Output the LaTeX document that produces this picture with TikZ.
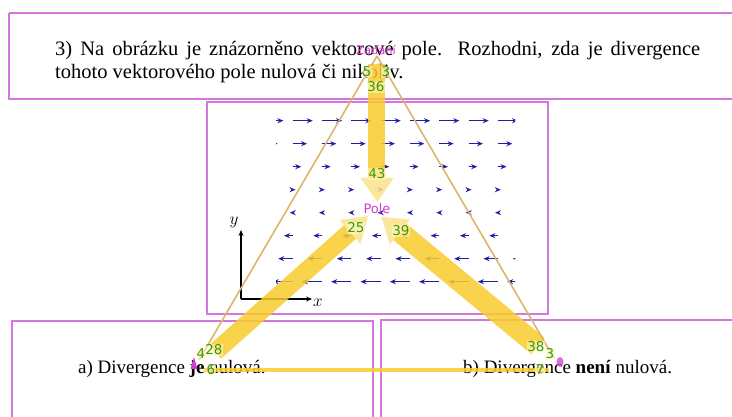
\documentclass[tikz,border=0pt]{standalone}
\usepackage{fontspec}
\setmainfont{Liberation Serif}
\newfontfamily\lab{DejaVu Sans}
\usetikzlibrary{arrows.meta,calc}
\definecolor{boxc}{RGB}{210,120,220}
\definecolor{vecc}{RGB}{30,30,160}
\definecolor{bandc}{RGB}{248,204,45}
\definecolor{headc}{RGB}{250,226,140}
\definecolor{thinc}{RGB}{222,182,105}
\definecolor{numc}{RGB}{60,150,20}
\definecolor{magc}{RGB}{210,60,210}
\tikzset{
  panel/.style={draw=boxc, line width=1.1pt},
  vec/.style={draw=vecc, line width=1.5pt, -{Stealth[length=6pt,width=5pt]}},
  band/.style={draw=bandc, draw opacity=0.85, line cap=butt},
  head/.style={fill=headc, fill opacity=0.85, draw=none},
  thin/.style={draw=thinc, line width=1.6pt},
  num/.style={font=\lab\fontsize{13.5}{14}\selectfont, text=numc, fill=yellow!25!white, fill opacity=0.55, text opacity=1, inner sep=0.8pt},
  mag/.style={text=magc, inner sep=0.5pt},
  axis/.style={draw=black, line width=1.2pt, -{Stealth[length=6pt,width=5pt]}}
}
\begin{document}
\begin{tikzpicture}[x=1pt,y=-1pt]
\useasboundingbox[fill=white] (0,0) rectangle (732,417);
% panels
\draw[panel] (9,13) -- (733,13) (9,13) -- (9,99) -- (733,99);
\draw[panel] (207,102) rectangle (548,314);
\draw[panel] (12,420) -- (12,321) -- (373,321) -- (373,420);
\draw[panel] (381,420) -- (381,320) -- (733,320);
% question text
\node[anchor=base west, inner sep=0, font=\fontsize{20.5}{23}\selectfont] (q1) at (55,56) {\makebox[645pt][s]{3) Na obrázku je znázorněno vektorové pole. Rozhodni, zda je divergence}};
\node[anchor=base west, inner sep=0, font=\fontsize{20.5}{23}\selectfont] (q2) at (55,79) {tohoto vektorového pole nulová či nikoliv.};
% answers
\node[anchor=base west, inner sep=0, font=\fontsize{19}{22}\selectfont] (ansa) at (78,373) {a) Divergence \textbf{je} nulová.};
\node[anchor=base west, inner sep=0, font=\fontsize{19}{22}\selectfont] (ansb) at (463,373) {b) Divergence \textbf{není} nulová.};
% vector field
\begin{scope}
\clip (276,105) rectangle (515,295);
\foreach \j in {0,...,7} {
  \pgfmathsetmacro\yy{120.7+23*\j}
  \pgfmathsetmacro\vx{0.25*(201.2-\yy)}
  \foreach \k in {0,...,9} {
    \pgfmathsetmacro\xx{263.3+29.33*\k}
    \draw[vec] (\xx,\yy) -- ++(\vx,0);
  }
}
\end{scope}
% axes
\coordinate (o) at (241,299);
\coordinate (ytip) at (241,230);
\coordinate (xtip) at (312,299);
\draw[axis] (o) -- (ytip);
\draw[axis] (o) -- (xtip);
\node[font=\fontsize{16}{16}\selectfont] (ylab) at (234,222) {$y$};
\node[font=\fontsize{16}{16}\selectfont] (xlab) at (318,303) {$x$};
% overlay coordinates
\coordinate (zad) at (377,56);
\coordinate (zpTop) at (376.5,64);
\coordinate (zpBase) at (376.5,178);
\coordinate (zpL) at (360.5,178);
\coordinate (zpR) at (393.5,178);
\coordinate (zpApex) at (377.5,202);
\coordinate (aEnd) at (215,352);
\coordinate (aBase) at (350,232);
\coordinate (aL) at (339.4,220);
\coordinate (aR) at (360.6,244);
\coordinate (aApex) at (368,216);
\coordinate (bEnd) at (538,346);
\coordinate (bBase) at (400,232);
\coordinate (bL) at (389.9,244.4);
\coordinate (bR) at (410.1,219.6);
\coordinate (bApex) at (381.4,216.8);
\coordinate (na) at (199,360);
\coordinate (nb) at (554,358);
\coordinate (hA) at (204,370);
\coordinate (hB) at (549,370);
% bands
\draw[band, line width=17pt] (zpTop) -- (zpBase);
\fill[head] (zpL) -- (zpR) -- (zpApex) -- cycle;
\draw[band, line width=18pt] (aEnd) -- (aBase);
\fill[head] (aL) -- (aR) -- (aApex) -- cycle;
\draw[band, line width=21pt] (bEnd) -- (bBase);
\fill[head] (bL) -- (bR) -- (bApex) -- cycle;
\draw[band, line width=4pt] (hA) -- (hB);
% thin connectors
\draw[thin] (zad) -- (na);
\draw[thin] (zad) -- (nb);
% node markers
\fill[magc] (194,357) -- (197.5,369) -- (190.5,369) -- cycle;
\fill[magc, opacity=0.75] (560,362) ellipse (3.5pt and 5pt);
% node labels
\node[mag, font=\lab\fontsize{11.5}{12}\selectfont] (lzad) at (376,50) {Zadání};
\node[mag, font=\lab\fontsize{13}{13}\selectfont] (lpole) at (377,209) {Pole};
% numbers
\node[num] (n5) at (367,72) {5};
\node[num] (n3) at (386,72) {3};
\node[num] (n36) at (376,87) {36};
\node[num] (n43) at (377,174) {43};
\node[num] (n25) at (356,228) {25};
\node[num] (n39) at (401,231) {39};
\node[num] (n4) at (201,354) {4};
\node[num] (n28) at (214,350) {28};
\node[num] (n6) at (211,370) {6};
\node[num] (n38) at (536,347) {38};
\node[num] (n3b) at (550,354) {3};
\node[num] (n7) at (540,370) {7};
\end{tikzpicture}
\end{document}
